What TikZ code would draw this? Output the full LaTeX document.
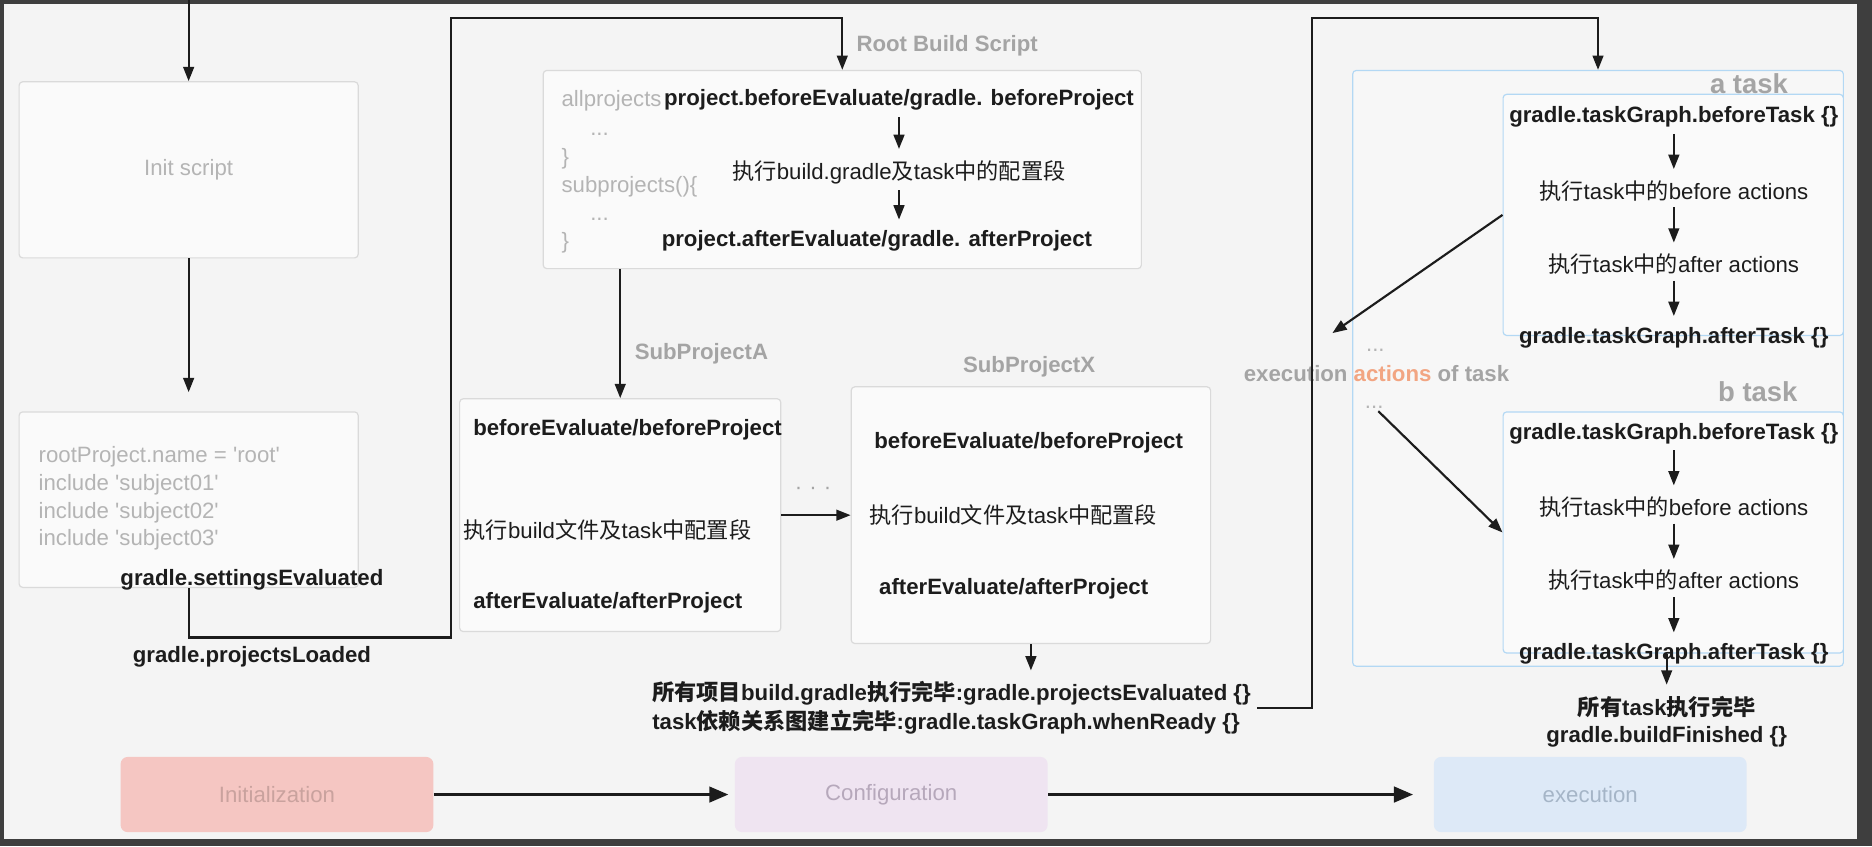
\documentclass[tikz,border=0pt]{standalone}
\usepackage{fontspec}
\setmainfont{Liberation Sans}
\newfontfamily\zhfont{Noto Sans CJK SC}
\usepackage{tikz}
\usetikzlibrary{arrows.meta, positioning}

\definecolor{frame}{HTML}{3E3E3E}
\definecolor{canvas}{HTML}{F4F4F4}
\definecolor{cardfill}{HTML}{FAFAFA}
\definecolor{cardline}{HTML}{DADADA}
\definecolor{taskline}{HTML}{B3D8F4}
\definecolor{ink}{HTML}{1C1C1C}
\definecolor{hintgray}{HTML}{B4B4B4}
\definecolor{taggray}{HTML}{A4A4A4}
\definecolor{actorange}{HTML}{F2A582}
\definecolor{initfill}{HTML}{F5C6C2}
\definecolor{inittext}{HTML}{C9A29E}
\definecolor{conffill}{HTML}{EFE4F1}
\definecolor{conftext}{HTML}{B6A8BB}
\definecolor{execfill}{HTML}{DDE9F7}
\definecolor{exectext}{HTML}{A5B5C7}

\newcommand{\zh}[1]{{\zhfont #1}}
\newcommand{\diagfont}{\fontsize{9.3pt}{11.6pt}\selectfont}

\begin{document}
\begin{tikzpicture}[
    x=0.5pt, y=-0.5pt,
    font=\diagfont,
    node distance=30.8pt, on grid,
    card/.style={draw=cardline, fill=cardfill, rounded corners=1.5pt, line width=0.5pt},
    taskbox/.style={draw=taskline, fill=cardfill, rounded corners=1.5pt, line width=0.5pt},
    hint/.style={text=hintgray, align=left, inner sep=1pt},
    hook/.style={text=ink, font=\diagfont\bfseries, inner sep=2.5pt},
    plain/.style={text=ink, inner sep=2.5pt},
    tag/.style={text=taggray, font=\diagfont\bfseries, inner sep=1pt},
    phase/.style={rounded corners=3pt, minimum width=131pt, minimum height=31.5pt},
    arrow/.style={-{Triangle[length=6pt, width=4.5pt]}, line width=0.9pt, draw=ink},
    inarrow/.style={arrow, shorten >=2pt},
    flow/.style={-{Triangle[length=8pt, width=6.5pt]}, line width=1.2pt, draw=ink}
]
    \useasboundingbox (0,0) rectangle (1568,709);
    \fill[frame] (0,0) rectangle (1568,709);
    \fill[canvas] (3,3) rectangle (1555,703);

    % settings
    \node[card, minimum width=142pt, minimum height=73.75pt, text=hintgray] (init) at (158,142.25) {Init script};
    \node[card, minimum width=142pt, minimum height=73.5pt] (settings) at (158,418.5) {};
    \node[hint, anchor=west] (settext) at (30,417.5) {rootProject.name = \textquotesingle root\textquotesingle\\include \textquotesingle subject01\textquotesingle\\include \textquotesingle subject02\textquotesingle\\include \textquotesingle subject03\textquotesingle};
    \node[hook] (evaluated) at (211,486) {gradle.settingsEvaluated};
    \node[hook] (loaded) at (211,550) {gradle.projectsLoaded};

    % root build script
    \node[card, minimum width=250.5pt, minimum height=83pt] (root) at (705.5,142) {};
    \node[hint, anchor=west] (allproj) at (468,84) {allprojects};
    \node[hint, anchor=west, font=\fontsize{9.3pt}{11.8pt}\selectfont] (rootcode) at (468,162) {\hspace*{12pt}...\\\}\\subprojects()\{\\\hspace*{12pt}...\\\}};
    \node[hook] (rbefore) at (753,84) {project.beforeEvaluate/gradle. beforeProject};
    \node[plain, below=30pt of rbefore] (rmid) {\zh{执行}build.gradle\zh{及}task\zh{中的配置段}};
    \node[hook] (rafter) at (734.5,202) {project.afterEvaluate/gradle. afterProject};
    \node[tag, anchor=west] (roottag) at (715,38) {Root Build Script};
    \draw[inarrow] (rbefore) -- (rmid);
    \draw[inarrow] (rmid) -- (rmid |- rafter.north);

    % sub projects
    \node[card, minimum width=134.5pt, minimum height=97.5pt] (subA) at (519.5,431.5) {};
    \node[hook, anchor=west, inner sep=0pt] (subAbefore) at (396,360) {beforeEvaluate/beforeProject};
    \node[plain, anchor=west, inner sep=0pt] (subAconf) at (388,444) {\zh{执行}build\zh{文件及}task\zh{中配置段}};
    \node[hook, anchor=west, inner sep=0pt] (subAafter) at (396,505) {afterEvaluate/afterProject};
    \node[tag] (subAtag) at (587.5,296) {SubProjectA};

    \node[card, minimum width=150.5pt, minimum height=107.5pt] (subX) at (863.5,431.5) {};
    \node[hook, anchor=west, inner sep=0pt] (subXbefore) at (732,371) {beforeEvaluate/beforeProject};
    \node[plain, anchor=west, inner sep=0pt] (subXconf) at (728,431) {\zh{执行}build\zh{文件及}task\zh{中配置段}};
    \node[hook, anchor=west, inner sep=0pt] (subXafter) at (736,493) {afterEvaluate/afterProject};
    \node[tag] (subXtag) at (862,307) {SubProjectX};
    \node[text=taggray] (between) at (681,411) {·\hspace{3pt}·\hspace{3pt}·};

    \node[hook, anchor=west, align=left, font=\fontsize{9.3pt}{12pt}\selectfont\bfseries] (done) at (541,593) {\zh{所有项目}build.gradle\zh{执行完毕}:gradle.projectsEvaluated \{\}\\task\zh{依赖关系图建立完毕}:gradle.taskGraph.whenReady \{\}};

    % execution
    \node[taskbox, fill=canvas!50!cardfill, minimum width=205.5pt, minimum height=249.5pt] (exec) at (1338.5,308.5) {};
    \node[taskbox, minimum width=142.5pt, minimum height=101pt] (abox) at (1401.5,180) {};
    \node[taskbox, minimum width=142.5pt, minimum height=101pt] (bbox) at (1401.5,446) {};
    \node[tag, font=\fontsize{11.5pt}{13pt}\selectfont\bfseries, anchor=east] (atag) at (1500,70) {a task};
    \node[tag, font=\fontsize{11.5pt}{13pt}\selectfont\bfseries, anchor=east] (btag) at (1508,328) {b task};

    \node[hook] (aBeforeTask) at (1402,98) {gradle.taskGraph.beforeTask \{\}};
    \node[plain, below=of aBeforeTask] (aBeforeAct) {\zh{执行}task\zh{中的}before actions};
    \node[plain, below=of aBeforeAct] (aAfterAct) {\zh{执行}task\zh{中的}after actions};
    \node[hook, below=of aAfterAct] (aAfterTask) {gradle.taskGraph.afterTask \{\}};
    \draw[inarrow] (aBeforeTask) -- (aBeforeAct);
    \draw[inarrow] (aBeforeAct) -- (aAfterAct);
    \draw[inarrow] (aAfterAct) -- (aAfterTask);

    \node[hook] (bBeforeTask) at (1402,363) {gradle.taskGraph.beforeTask \{\}};
    \node[plain, below=of bBeforeTask] (bBeforeAct) {\zh{执行}task\zh{中的}before actions};
    \node[plain, below=of bBeforeAct] (bAfterAct) {\zh{执行}task\zh{中的}after actions};
    \node[hook, below=of bAfterAct] (bAfterTask) {gradle.taskGraph.afterTask \{\}};
    \draw[inarrow] (bBeforeTask) -- (bBeforeAct);
    \draw[inarrow] (bBeforeAct) -- (bAfterAct);
    \draw[inarrow] (bAfterAct) -- (bAfterTask);

    \node[tag] (actlabel) at (1153,313) {execution \textcolor{actorange}{actions} of task};
    \node[hint] (dotsUp) at (1152,293) {...};
    \node[hint] (dotsDown) at (1151,341) {...};
    \coordinate (fork) at (1116,279);
    \draw[arrow] (abox.west) -- (fork);
    \draw[arrow] (dotsDown) -- (bbox.west);

    \node[hook, align=center] (finish) at (1396,604.5) {\zh{所有}task\zh{执行完毕}\\gradle.buildFinished \{\}};
    \draw[inarrow] (finish.north |- bbox.south) -- (finish.north);

    % phases
    \node[phase, fill=initfill, text=inittext] (initPhase) at (232,665.5) {Initialization};
    \node[phase, fill=conffill, text=conftext] (confPhase) at (746.5,665.5) {Configuration};
    \node[phase, fill=execfill, text=exectext] (execPhase) at (1332,665.5) {execution};
    \draw[flow, shorten >=2.5pt] (initPhase) -- (confPhase);
    \draw[flow, shorten >=8.5pt] (confPhase) -- (execPhase);

    % connectors
    \coordinate (entry) at (158,0);
    \coordinate (dip) at (378,534);
    \coordinate (lift) at (378,15);
    \coordinate (rise) at (1099,15);
    \draw[arrow] (entry) -- (init.north);
    \draw[arrow, shorten >=8pt] (init) -- (settings);
    \draw[arrow] (settings.south) |- (dip) -- (lift) -| (root.north);
    \draw[arrow] (subA.north |- root.south) -- (subA.north);
    \draw[arrow] (subA) -- (subX);
    \draw[inarrow] (subX.south) -- (subX.south |- done.north);
    \draw[arrow] (done.east) -| (rise) -| (exec.north);
\end{tikzpicture}
\end{document}
